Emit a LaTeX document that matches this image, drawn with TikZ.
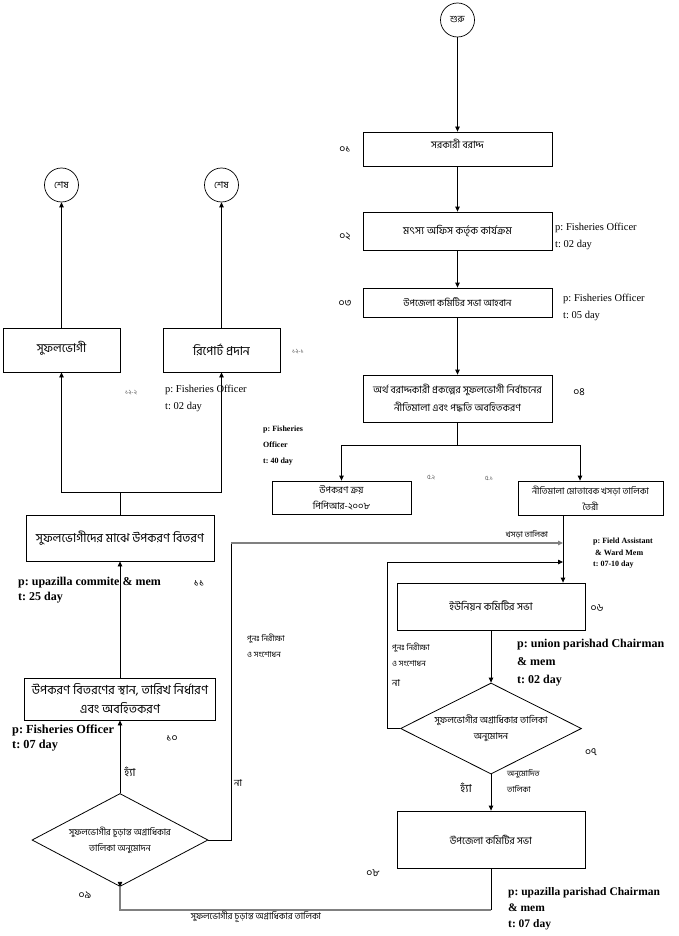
\documentclass[tikz,border=0pt]{standalone}
\usepackage{fontspec}
\setmainfont{Liberation Serif}
\newfontfamily\bn[Script=Bengali]{Hind Siliguri}
\usetikzlibrary{arrows.meta,shapes.geometric}
\frenchspacing
\begin{document}
\begin{tikzpicture}[x=1pt,y=-1pt,
  box/.style={draw,line width=0.8pt,inner sep=0pt,align=center,font=\bn\fontsize{10}{17}\selectfont},
  dia/.style={draw,diamond,aspect=2,line width=0.8pt,inner sep=0pt,align=center,font=\bn\fontsize{9}{16}\selectfont},
  term/.style={draw,circle,line width=0.7pt,minimum size=34pt,inner sep=0pt,font=\bn\fontsize{9.5}{10}\selectfont},
  arr/.style={-{Triangle[length=5pt,width=4.5pt]}},
  ln/.style={line width=0.8pt},
  gln/.style={line width=1.3pt,draw=gray},
  num/.style={inner sep=0pt,font=\bn\fontsize{10.5}{11}\selectfont},
  snum/.style={inner sep=0pt,font=\bn\fontsize{6.5}{8}\selectfont,text=gray!70!black},
  ann/.style={anchor=west,inner sep=0pt,align=left,font=\fontsize{10.5}{17}\selectfont},
  sann/.style={anchor=west,inner sep=0pt,align=left,font=\bfseries\fontsize{8}{16}\selectfont},
  lbl/.style={inner sep=0pt,align=left,font=\bn\fontsize{8}{16}\selectfont},
]
\useasboundingbox[fill=white] (0,0) rectangle (679,936);

% terminals
\node[term] (start) at (457.5,20) {শুরু};
\node[term] (e1) at (61.5,185) {শেষ};
\node[term] (e2) at (221.5,185) {শেষ};

% right column
\node[box,minimum width=189pt,minimum height=34pt,text depth=11pt] (b01) at (457.5,149) {সরকারী বরাদ্দ};
\node[box,minimum width=189pt,minimum height=38pt,font=\bn\fontsize{10.5}{17}\selectfont] (b02) at (457.5,231) {মৎস্য অফিস কর্তৃক কার্যক্রম};
\node[box,minimum width=189pt,minimum height=29pt,font=\bn\fontsize{9.5}{17}\selectfont] (b03) at (457.5,302.5) {উপজেলা কমিটির সভা আহবান};
\node[box,minimum width=189pt,minimum height=47pt,font=\bn\fontsize{10}{18}\selectfont] (b04) at (457.5,398.5) {অর্থ বরাদ্দকারী প্রকল্পের সুফলভোগী নির্বাচনের\\নীতিমালা এবং পদ্ধতি অবহিতকরণ};
\node[box,minimum width=139pt,minimum height=33pt,font=\bn\fontsize{9.5}{16}\selectfont] (b52) at (341.5,497.5) {উপকরণ ক্রয়\\পিপিআর-২০০৮};
\node[box,minimum width=145pt,minimum height=34pt,font=\bn\fontsize{9}{16}\selectfont] (b51) at (590.5,498) {নীতিমালা মোতাবেক খসড়া তালিকা\\তৈরী};
\node[box,minimum width=188pt,minimum height=47pt,font=\bn\fontsize{10.5}{17}\selectfont] (b06) at (491,606.5) {ইউনিয়ন কমিটির সভা};
\node[dia,minimum width=181pt,minimum height=91pt,font=\bn\fontsize{9.3}{16}\selectfont] (d07) at (491,728.5) {সুফলভোগীর অগ্রাধিকার তালিকা\\অনুমোদন};
\node[box,minimum width=188pt,minimum height=57pt] (b08) at (491,839.5) {উপজেলা কমিটির সভা};

% left column
\node[dia,minimum width=176pt,minimum height=93pt] (d09) at (120,840) {সুফলভোগীর চূড়ান্ত অগ্রাধিকার\\তালিকা অনুমোদন};
\node[box,minimum width=191pt,minimum height=42pt,font=\bn\fontsize{12.5}{19}\selectfont] (b10) at (120,699) {উপকরণ বিতরণের স্থান, তারিখ নির্ধারণ\\এবং অবহিতকরণ};
\node[box,minimum width=188pt,minimum height=46pt,font=\bn\fontsize{12.3}{17}\selectfont] (b11) at (120,538) {সুফলভোগীদের মাঝে উপকরণ বিতরণ};
\node[box,minimum width=117pt,minimum height=44pt,text depth=7pt,font=\bn\fontsize{12}{17}\selectfont] (b122) at (61.5,350) {সুফলভোগী};
\node[box,minimum width=117pt,minimum height=44pt,font=\bn\fontsize{12.3}{17}\selectfont] (b121) at (221.5,350) {রিপোর্ট প্রদান};

% connectors
\draw[ln,arr] (start) -- (b01);
\draw[ln,arr] (b01) -- (b02);
\draw[ln,arr] (b02) -- (b03);
\draw[ln,arr] (b03) -- (b04);
\coordinate (fork) at (457.5,445);
\draw[ln] (b04.south) -- (fork);
\draw[ln,arr] (fork) -| (b52.north);
\draw[ln,arr] (fork) -| ([xshift=-10.5pt]b51.north);
\coordinate (m1) at (563,543);
\coordinate (m2) at (563,562);
\draw[ln,arr] ([xshift=-27.5pt]b51.south) -- (b06.north -| m1);
\draw[ln,arr] (b06) -- (d07);
\draw[ln,arr] (d07) -- (b08);
\coordinate (c07) at (387,728.5);
\draw[ln,arr] (d07.west) -- (c07) |- (m2);
\coordinate (c08) at (491,910);
\draw[ln] (b08.south) -- (c08);
\draw[gln] (c08) -| ([yshift=4pt]d09.south);
\draw[ln,arr] ([yshift=4.5pt]d09.south) -- (d09.south);
\coordinate (c09) at (231,840);
\draw[ln] (d09.east) -- (c09) -- (c09 |- m1);
\draw[gln,arr] (c09 |- m1) -- (m1);
\draw[ln,arr] (d09) -- (b10);
\draw[ln,arr] (b10) -- (b11);
\coordinate (f12) at (120,492);
\draw[ln] (b11.north) -- (f12);
\draw[ln,arr] (f12) -| (b122.south);
\draw[ln,arr] (f12) -| (b121.south);
\draw[ln,arr] (b122) -- (e1);
\draw[ln,arr] (b121) -- (e2);

% step numbers
\node[num] (n01) at (345,149) {০১};
\node[num] (n02) at (345,237) {০২};
\node[num] (n03) at (345,303) {০৩};
\node[num] (n04) at (579,392) {০৪};
\node[snum] (n52) at (431,478) {৫.২};
\node[snum] (n51) at (489,478) {৫.১};
\node[num] (n06) at (597,608) {০৬};
\node[num] (n07) at (591,752) {০৭};
\node[num] (n08) at (373,873) {০৮};
\node[num] (n09) at (85,895) {০৯};
\node[num] (n10) at (172,738) {১০};
\node[num] (n11) at (199,583) {১১};
\node[snum] (n121) at (298,352) {১২-১};
\node[snum] (n122) at (131,393) {১২-২};

% annotations
\node[ann] (a02) at (555,236.5) {p: Fisheries Officer\\t: 02 day};
\node[ann] (a03) at (563,307) {p: Fisheries Officer\\t: 05 day};
\node[sann] (a52) at (263,446) {p: Fisheries\\Officer\\t: 40 day};
\node[anchor=west,inner sep=0pt,align=left,font=\bfseries\fontsize{8}{11.5}\selectfont] (a51) at (593,553.5) {p: Field Assistant\\\hspace*{2pt}\& Ward Mem\\t: 07-10 day};
\node[anchor=west,inner sep=0pt,align=left,font=\bfseries\fontsize{12}{18}\selectfont] (a06) at (517,663) {p: union parishad Chairman\\\& mem\\t: 02 day};
\node[anchor=west,inner sep=0pt,align=left,font=\bfseries\fontsize{11.5}{16}\selectfont] (a08) at (508,909) {p: upazilla parishad Chairman\\\& mem\\t: 07 day};
\node[anchor=west,inner sep=0pt,align=left,font=\bfseries\fontsize{12}{15}\selectfont] (a11) at (18,590.5) {p: upazilla commite \& mem\\t: 25 day};
\node[anchor=west,inner sep=0pt,align=left,font=\bfseries\fontsize{12.3}{15}\selectfont] (a10) at (12,737.5) {p: Fisheries Officer\\t: 07 day};
\node[ann] (a12) at (165,398.5) {p: Fisheries Officer\\t: 02 day};

% connector labels
\node[lbl] (t1) at (527,535) {খসড়া তালিকা};
\node[lbl,anchor=west] (t2) at (392,655) {পুনঃ নিরীক্ষা\\ও সংশোধন};
\node[lbl,anchor=west,font=\bn\fontsize{9.5}{10}\selectfont] (t3) at (392,683) {না};
\node[lbl,font=\bn\fontsize{11}{11}\selectfont] (t4) at (466,788) {হ্যাঁ};
\node[lbl,anchor=west] (t5) at (507,781) {অনুমোদিত\\তালিকা};
\node[lbl,anchor=west] (t6) at (247,645.5) {পুনঃ নিরীক্ষা\\ও সংশোধন};
\node[lbl,anchor=west,font=\bn\fontsize{9.5}{10}\selectfont] (t7) at (234,783) {না};
\node[lbl,font=\bn\fontsize{11}{11}\selectfont] (t8) at (130,772) {হ্যাঁ};
\node[lbl,font=\bn\fontsize{9}{10}\selectfont] (t9) at (256,917) {সুফলভোগীর চূড়ান্ত অগ্রাধিকার তালিকা};
\end{tikzpicture}
\end{document}
